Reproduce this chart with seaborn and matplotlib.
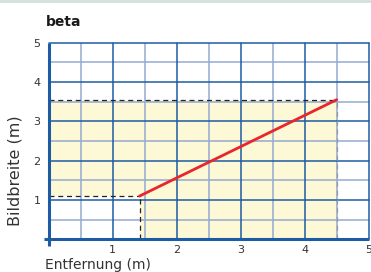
import numpy as np
import pandas as pd
import matplotlib
matplotlib.use("Agg")
import matplotlib.pyplot as plt
import seaborn as sns

# Data
distance = [1.42, 4.5]       # Entfernung (m)
image_width = [1.1, 3.55]    # Bildbreite (m)
x_ticks = [1, 2, 3, 4, 5]
y_ticks = [1, 2, 3, 4, 5]

MAJOR = "#1d5ca3"
MINOR = "#93abd2"
YELLOW = "#fdf8d5"
RED = "#e8262b"

sns.set_theme(style="white")
plt.rcParams["font.family"] = ["DejaVu Sans"]

fig = plt.figure(figsize=(3.71, 2.72), dpi=100)
ax = fig.add_axes([48.7 / 371, 32.7 / 272, 320 / 371, 196.6 / 272])
ax.set_xlim(0, 5)
ax.set_ylim(0, 5)
for s in ax.spines.values():
    s.set_visible(False)

# yellow area below/left of the line
x0, x1 = distance
y0, y1 = image_width
ax.fill([0, x1, x1, x0, x0, 0], [y1, y1, 0, 0, y0, y0], color=YELLOW, zorder=0, lw=0)

# grid
for v in np.arange(0.5, 5, 1.0):
    ax.axvline(v, color=MINOR, lw=1.1, zorder=1)
    ax.axhline(v, color=MINOR, lw=1.1, zorder=1)
for v in range(1, 6):
    ax.axvline(v, color=MAJOR, lw=1.1, zorder=2, clip_on=False)
    ax.axhline(v, color=MAJOR, lw=1.1, zorder=2, clip_on=False)

# guide lines
ax.plot([0, x1], [y1, y1], color="#222222", lw=0.9, ls=(0, (4, 3)), zorder=3)
ax.plot([x1, x1], [0, y1], color="#999999", lw=0.9, ls=(0, (4, 3)), zorder=3)
ax.plot([0, x0], [y0, y0], color="#222222", lw=0.9, ls=(0, (4, 3)), zorder=3)
ax.plot([x0, x0], [0, y0], color="#222222", lw=0.9, ls=(0, (4, 3)), zorder=3)

df = pd.DataFrame({"Entfernung": distance, "Bildbreite": image_width})
sns.lineplot(data=df, x="Entfernung", y="Bildbreite", color=RED, lw=2.0, ax=ax, zorder=4)

# axis lines
ax.plot([-0.07, 5.0], [0, 0], color=MAJOR, lw=2.2, clip_on=False, zorder=5, solid_capstyle="butt")
ax.plot([0, 0], [-0.17, 5.0], color=MAJOR, lw=2.2, clip_on=False, zorder=5, solid_capstyle="butt")

ax.set_xticks(x_ticks)
ax.set_yticks(y_ticks)
ax.tick_params(axis="both", length=4, width=1.1, color=MAJOR, direction="out",
               labelsize=8, labelcolor="#333333")
ax.tick_params(axis="x", pad=0)
ax.tick_params(axis="y", pad=2)
ax.set_xlabel("")
ax.set_ylabel("")

fig.text(46 / 371, 1 - 22 / 272, "beta", fontsize=10, fontweight="bold", color="#1a1a1a",
         va="center", ha="left")
fig.text(15 / 371, 1 - 171 / 272, "Bildbreite (m)", fontsize=11.5, rotation=90,
         va="center", ha="center", color="#333333")
fig.text(45 / 371, 0.5 / 272, "Entfernung (m)", fontsize=10, va="bottom", ha="left",
         color="#333333")

# thin top band
fig.add_artist(plt.Line2D([0, 1], [0.997, 0.997], transform=fig.transFigure,
                          color="#cfe3dc", lw=2))

fig.savefig("out.png", dpi=100)
